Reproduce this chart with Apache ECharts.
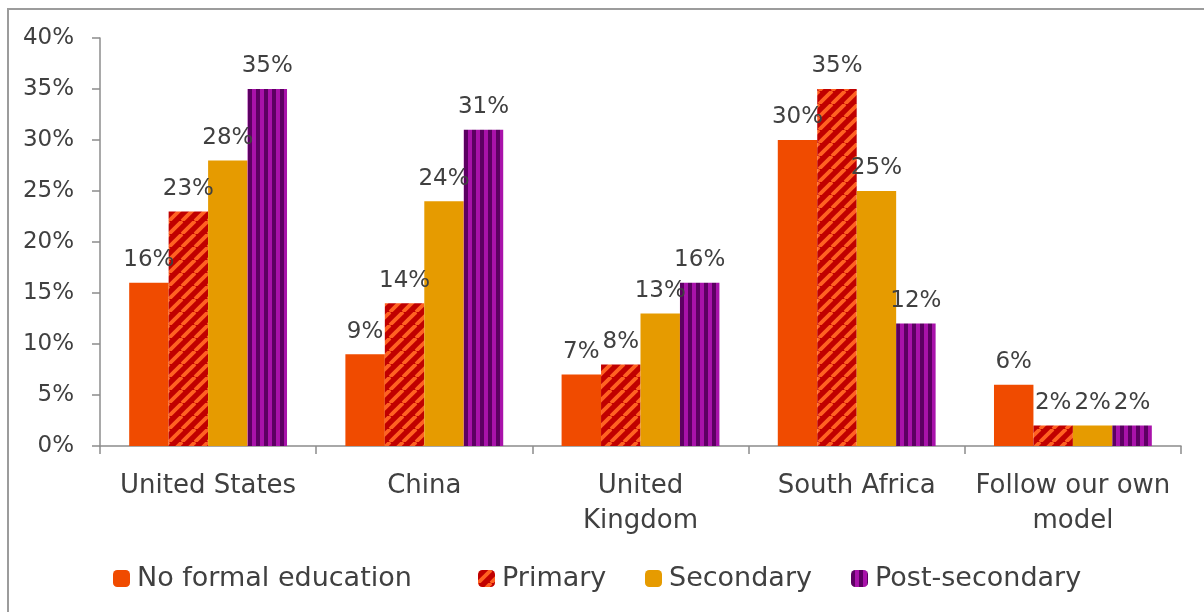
<!DOCTYPE html>
<html>
<head>
<meta charset="utf-8">
<script src="https://cdn.jsdelivr.net/npm/echarts@6/dist/echarts.min.js"></script>
<style>
  html, body { margin: 0; padding: 0; background: #ffffff; }
  #chart { width: 1204px; height: 612px; }
</style>
</head>
<body>
<div id="chart"></div>
<script>
// Categories and series values (percent of respondents)
const categories = ['United States', 'China', 'United\nKingdom', 'South Africa', 'Follow our own\nmodel'];
const seriesNames = ['No formal education', 'Primary', 'Secondary', 'Post-secondary'];
const noFormal = [16, 9, 7, 30, 6];
const primary = [23, 14, 8, 35, 2];
const secondary = [28, 24, 13, 25, 2];
const postSecondary = [35, 31, 16, 12, 2];
const yTicks = { min: 0, max: 40, interval: 5 };

// Diagonal stripe fill for "Primary"
function diagonalPattern() {
  const s = 13;
  const c = document.createElement('canvas');
  c.width = s; c.height = s;
  const g = c.getContext('2d');
  g.fillStyle = '#C00000';
  g.fillRect(0, 0, s, s);
  g.strokeStyle = '#FF6222';
  g.lineWidth = 3.8;
  for (let k = -s; k <= s; k += s) {
    g.beginPath();
    g.moveTo(k, s);
    g.lineTo(k + s, 0);
    g.stroke();
  }
  return c;
}

// Vertical stripe fill for "Post-secondary"
function verticalPattern() {
  const c = document.createElement('canvas');
  c.width = 8; c.height = 8;
  const g = c.getContext('2d');
  g.fillStyle = '#A812AA';
  g.fillRect(0, 0, 8, 8);
  g.fillStyle = '#5C0062';
  g.fillRect(0, 0, 4, 8);
  return c;
}

const textColor = '#404040';
const fontFamily = '"DejaVu Sans", sans-serif';
const axisColor = '#8C8C8C';

const fills = [
  '#F04B00',
  { image: diagonalPattern(), repeat: 'repeat' },
  '#E69B00',
  { image: verticalPattern(), repeat: 'repeat' }
];
const values = [noFormal, primary, secondary, postSecondary];
// one legend entry per series, laid out along the bottom
const legendLeft = [113, 478, 645, 851];

const chart = echarts.init(document.getElementById('chart'), null, { renderer: 'canvas' });

chart.setOption({
  backgroundColor: '#ffffff',
  animation: false,
  textStyle: { fontFamily: fontFamily, color: textColor },
  graphic: [{
    type: 'rect',
    silent: true,
    shape: { x: 8, y: 9, width: 1400, height: 800 },
    style: { fill: 'none', stroke: '#9C9C9C', lineWidth: 2 }
  }],
  grid: { left: 100, right: 23, top: 38, bottom: 166, containLabel: false },
  legend: seriesNames.map((name, i) => ({
    data: [name],
    left: legendLeft[i],
    top: 565,
    padding: 0,
    itemWidth: 17,
    itemHeight: 17,
    textStyle: { fontSize: 27, color: textColor, fontFamily: fontFamily, padding: [0, 0, 0, 2] }
  })),
  xAxis: {
    type: 'category',
    data: categories,
    axisLine: { lineStyle: { color: axisColor, width: 1.5 } },
    axisTick: { show: true, length: 8, lineStyle: { color: axisColor, width: 1.5 } },
    axisLabel: { fontSize: 26, color: textColor, margin: 23, lineHeight: 35, interval: 0 }
  },
  yAxis: {
    type: 'value',
    min: yTicks.min,
    max: yTicks.max,
    interval: yTicks.interval,
    axisLine: { show: true, lineStyle: { color: axisColor, width: 1.5 } },
    axisTick: { show: true, length: 8, lineStyle: { color: axisColor, width: 1.5 } },
    splitLine: { show: false },
    axisLabel: { fontSize: 23, color: textColor, margin: 26, formatter: '{value}%' }
  },
  series: seriesNames.map((name, i) => ({
    name: name,
    type: 'bar',
    data: values[i],
    barGap: '0%',
    barCategoryGap: '27%',
    itemStyle: { color: fills[i] },
    label: {
      show: true,
      position: 'top',
      distance: 11,
      fontSize: 23,
      color: textColor,
      fontFamily: fontFamily,
      formatter: '{c}%'
    }
  }))
});
</script>
</body>
</html>
